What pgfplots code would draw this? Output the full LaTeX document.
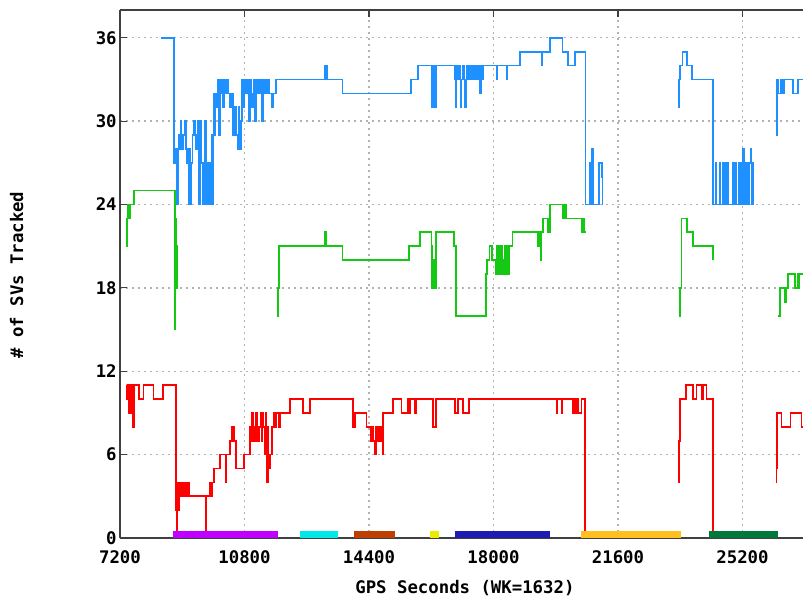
\documentclass[border=0pt]{standalone}
\usepackage{pgfplots}
\pgfplotsset{compat=1.18}
\usepackage{fontspec}
\setmainfont{DejaVu Sans Mono}
\definecolor{cblue}{RGB}{30,144,255}
\definecolor{cgreen}{RGB}{20,200,20}
\definecolor{cred}{RGB}{255,0,0}
\definecolor{bpurple}{RGB}{192,0,255}
\definecolor{bcyan}{RGB}{0,232,232}
\definecolor{bbrown}{RGB}{190,64,0}
\definecolor{byellow}{RGB}{235,235,0}
\definecolor{bblue}{RGB}{28,28,176}
\definecolor{borange}{RGB}{255,192,32}
\definecolor{bgreen}{RGB}{0,120,60}
\begin{document}
\begin{tikzpicture}
\useasboundingbox (0,0) rectangle (602.25pt,449.25pt);
\begin{axis}[
  at={(90pt,45.75pt)}, anchor=south west,
  scale only axis, width=512.25pt, height=396pt,
  xmin=7200, xmax=26950, ymin=0, ymax=38,
  xtick={7200,10800,14400,18000,21600,25200},
  ytick={0,6,12,18,24,30,36},
  scaled x ticks=false,
  axis x line=box, axis y line=left,
  axis line style={-, line width=1.1pt, black!75},
  tick align=inside,
  major tick length=5pt,
  tick style={line width=0.9pt, black!75},
  grid=major,
  major grid style={gray!60, line width=1pt, dash pattern=on 1.5pt off 3pt},
  /pgf/number format/1000 sep={},
  /pgf/number format/fixed,
  /pgf/number format/assume math mode=true,
  tick label style={font=\bfseries\fontsize{13}{15}\selectfont},
  xticklabel style={yshift=-6pt},
  yticklabel style={xshift=1pt},
  xlabel={GPS Seconds (WK=1632)},
  ylabel={\# of SVs Tracked},
  label style={font=\bfseries\fontsize{13}{15}\selectfont},
  xlabel style={at={(axis description cs:0.505,-0.1042)}, anchor=base},
  ylabel style={at={(axis description cs:-0.142,0.498)}, anchor=base},
  every axis plot/.append style={line width=1.25pt, const plot, line join=miter},
]
% ---------------- blue series ----------------
\addplot[cblue] coordinates {
(8377,36)(8771,27)(8820,28)(8840,24)(8887,29)(8930,28)(8960,30)(8983,28)
(9030,29)(9080,30)(9110,28)(9147,27)(9176,24)(9200,28)(9230,24)(9272,27)
(9300,29)(9340,30)(9380,28)(9436,29)(9460,30)(9494,24)(9520,30)(9561,27)
(9600,24)(9640,30)(9680,24)(9706,27)(9740,24)(9780,27)(9810,24)(9851,29)
(9870,24)(9899,32)(9940,29)(9960,32)(10000,31)(10030,33)(10060,29)(10092,33)
(10120,32)(10150,33)(10180,31)(10210,33)(10236,32)(10280,33)(10330,32)(10380,31)
(10430,32)(10477,29)(10520,31)(10560,29)(10600,28)(10622,31)(10660,28)(10699,30)
(10730,33)(10760,31)(10795,33)(10830,32)(10870,33)(10911,30)(10950,33)(11007,31)
(11040,32)(11070,33)(11110,30)(11150,33)(11200,32)(11250,33)(11300,30)(11344,33)
(11400,32)(11450,33)(11518,32)(11600,31)(11630,32)(11711,33)(13128,34)(13176,33)
(13638,32)(15614,33)(15826,34)(16212,31)(16260,34)(16290,31)(16337,34)(16886,33)
(16910,31)(16934,34)(16960,33)(16983,34)(17031,33)(17060,31)(17079,33)(17127,34)
(17160,31)(17200,33)(17224,34)(17260,33)(17300,34)(17340,33)(17380,34)(17420,33)
(17465,34)(17513,33)(17560,34)(17609,32)(17630,34)(17657,33)(17700,34)(18091,33)
(18110,34)(18380,33)(18400,34)(18766,35)(19392,34)(19420,35)(19633,36)(20000,35)
(20163,34)(20356,35)(20664,24)(20790,27)(20809,24)(20850,28)(20886,24)(21060,27)
(21130,26)(21156,24)
};
\addplot[cblue] coordinates {
(23344,31)(23373,33)(23392,34)(23469,35)(23604,34)(23739,33)(24356,24)(24433,27)
(24450,24)(24549,27)(24565,24)(24620,27)(24640,24)(24693,27)(24710,24)(24760,27)
(24775,24)(24934,27)(24950,24)(25000,27)(25020,24)(25080,27)(25100,24)(25150,27)
(25160,24)(25223,28)(25235,27)(25260,24)(25280,27)(25300,24)(25320,27)(25340,24)
(25360,27)(25380,24)(25400,27)(25435,28)(25445,27)(25470,24)(25490,27)(25513,24)
};
\addplot[cblue] coordinates {
(26168,29)(26190,33)(26235,32)(26300,33)(26330,32)(26350,33)(26380,32)(26400,33)
(26669,32)(26813,33)(26950,33)
};
% ---------------- green series ----------------
\addplot[cgreen] coordinates {
(7374,21)(7393,23)(7440,24)(7460,23)(7480,24)(7605,25)(8790,15)(8805,23)
(8812,19)(8818,22)(8824,18)(8830,21)(8839,18)(8845,18)
};
\addplot[cgreen] coordinates {
(11730,16)(11760,18)(11797,21)(13128,22)(13150,21)(13638,20)(15566,21)(15874,22)
(16212,21)(16230,18)(16260,20)(16290,18)(16337,22)(16857,21)(16915,16)(17783,19)
(17820,20)(17880,21)(17950,20)(18070,19)(18110,21)(18160,19)(18200,21)(18250,19)
(18300,20)(18330,21)(18360,19)(18380,21)(18420,19)(18450,21)(18554,22)(19296,21)
(19330,22)(19360,20)(19380,22)(19440,23)(19585,22)(19633,24)(20001,23)(20060,24)
(20115,23)(20549,22)(20570,23)(20590,22)(20610,23)(20630,22)(20664,22)
};
\addplot[cgreen] coordinates {
(23373,16)(23392,18)(23440,23)(23604,22)(23777,21)(24356,20)
};
\addplot[cgreen] coordinates {
(26240,16)(26284,18)(26429,17)(26457,18)(26524,19)(26717,18)(26790,19)(26810,18)
(26830,19)(26950,19)
};
% ---------------- red series ----------------
\addplot[cred] coordinates {
(7393,11)(7410,10)(7425,11)(7450,9)(7470,11)(7490,9)(7520,11)(7565,8)
(7600,11)(7759,10)(7875,11)(8164,10)(8453,11)(8810,2)(8825,4)(8839,0)
(8860,4)(8880,2)(8900,4)(8930,3)(8950,4)(8980,3)(9000,4)(9030,3)
(9050,4)(9080,3)(9100,4)(9140,3)(9160,4)(9190,3)(9670,0)(9685,3)
(9803,4)(9840,3)(9870,4)(9918,5)(10092,6)(10250,4)(10280,6)(10381,7)
(10429,8)(10496,7)(10554,5)(10795,6)(10959,8)(10990,7)(11010,9)(11040,7)
(11070,8)(11100,7)(11140,9)(11170,8)(11200,7)(11230,8)(11260,9)(11290,7)
(11320,9)(11350,8)(11380,6)(11410,9)(11441,4)(11470,8)(11489,5)(11540,6)
(11590,8)(11634,9)(11680,8)(11730,9)(11780,8)(11820,9)(12116,10)(12501,9)
(12694,10)(13947,8)(13995,9)(14332,8)(14450,7)(14480,8)(14525,7)(14573,6)
(14600,8)(14630,7)(14680,8)(14720,7)(14760,8)(14795,6)(14814,9)(15103,10)
(15344,9)(15537,10)(15585,9)(15595,10)(15730,9)(15778,10)(16260,8)(16337,10)
(16886,9)(16983,10)(17127,9)(17301,10)(19826,9)(19845,10)(19970,9)(19990,10)
(20290,9)(20310,10)(20330,9)(20350,10)(20400,9)(20430,10)(20460,9)(20549,10)
(20645,0)
};
\addplot[cred] coordinates {
(23344,4)(23363,7)(23392,10)(23565,11)(23777,10)(23874,11)(24019,10)(24067,11)
(24163,10)(24356,0)
};
\addplot[cred] coordinates {
(26168,4)(26185,5)(26206,9)(26331,8)(26592,9)(26910,8)(26950,8)
};
% ---------------- bars at the bottom ----------------
\addplot[bpurple, line width=5.25pt] coordinates {(8733,0.25)(11769,0.25)};
\addplot[bcyan, line width=5.25pt] coordinates {(12406,0.25)(13505,0.25)};
\addplot[bbrown, line width=5.25pt] coordinates {(13967,0.25)(15153,0.25)};
\addplot[byellow, line width=5.25pt] coordinates {(16165,0.25)(16425,0.25)};
\addplot[bblue, line width=5.25pt] coordinates {(16888,0.25)(19636,0.25)};
\addplot[borange, line width=5.25pt] coordinates {(20532,0.25)(23424,0.25)};
\addplot[bgreen, line width=5.25pt] coordinates {(24234,0.25)(26229,0.25)};
\end{axis}
\end{tikzpicture}
\end{document}
